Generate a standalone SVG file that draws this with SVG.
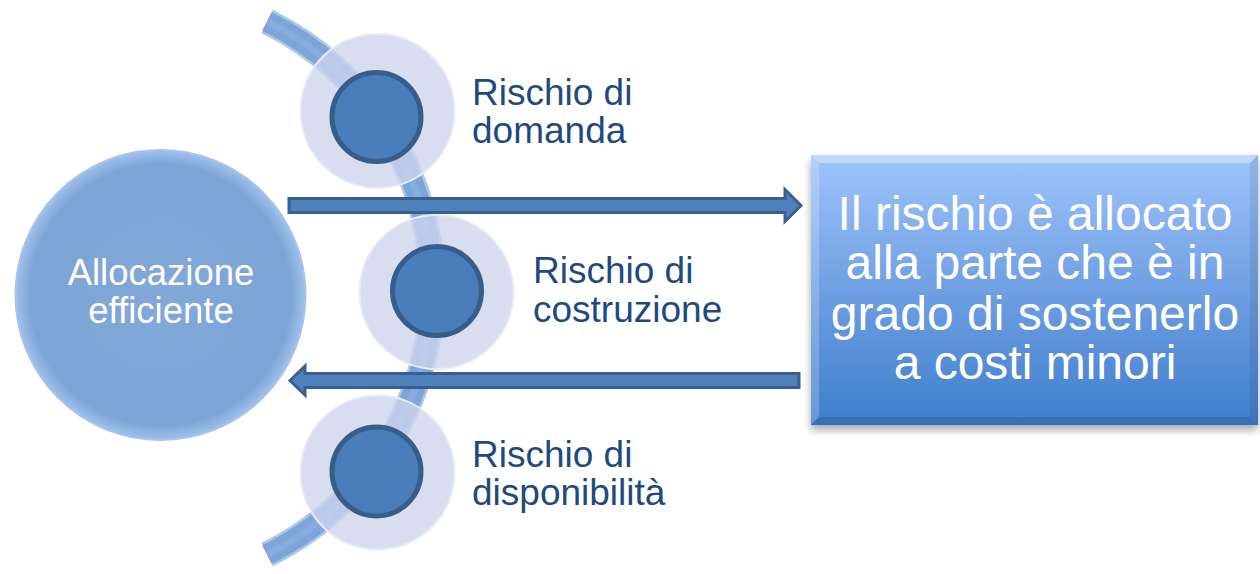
<svg xmlns="http://www.w3.org/2000/svg" width="1260" height="574" viewBox="0 0 1260 574">
  <defs>
    <style>
      .lbl { font-family: "Liberation Sans", Arial, sans-serif; font-size: 37px; fill: #1f4a80; }
      .wht { font-family: "Liberation Sans", Arial, sans-serif; fill: #ffffff; text-anchor: middle; }
      .outer { fill: #cdd3ec; fill-opacity: 0.78; stroke: #e9ecf7; stroke-width: 2; }
      .inner { fill: #4a7ebb; stroke: #385d8a; stroke-width: 5; }
      .arrow { fill: #4f81bd; stroke: #3a5f8f; stroke-width: 3; stroke-linejoin: miter; }
    </style>
    <radialGradient id="bigGrad" cx="50%" cy="50%" r="50%">
      <stop offset="0" stop-color="#82a7d9"/>
      <stop offset="0.9" stop-color="#7ea4d6"/>
      <stop offset="1" stop-color="#9fc0ec"/>
    </radialGradient>
    <linearGradient id="boxGrad" x1="0" y1="0" x2="0" y2="1">
      <stop offset="0" stop-color="#9fc4fb"/>
      <stop offset="0.5" stop-color="#6f9fe2"/>
      <stop offset="1" stop-color="#3f7ecd"/>
    </linearGradient>
    <filter id="shadow" x="-10%" y="-10%" width="120%" height="130%">
      <feGaussianBlur in="SourceAlpha" stdDeviation="4"/>
      <feOffset dx="0" dy="5" result="b"/>
      <feComponentTransfer><feFuncA type="linear" slope="0.35"/></feComponentTransfer>
      <feMerge><feMergeNode/><feMergeNode in="SourceGraphic"/></feMerge>
    </filter>
  </defs>

  <rect width="1260" height="574" fill="#ffffff"/>

  <!-- curved band -->
  <g id="arc">
    <path d="M267,21.3 A298,298 0 0 1 267,554.7" fill="none" stroke="#a9c8f0" stroke-width="26"/>
    <path d="M267,21.3 A298,298 0 0 1 267,554.7" fill="none" stroke="#7fa5d8" stroke-width="21"/>
    <path d="M267,21.3 A298,298 0 0 1 267,554.7" fill="none" stroke="#88acdd" stroke-width="7"/>
  </g>

  <!-- main circle -->
  <g id="node-allocazione">
    <circle cx="160.5" cy="295" r="145" fill="url(#bigGrad)" stroke="#a7c3ea" stroke-width="2"/>
    <text class="wht" x="161" y="285" font-size="36.5">Allocazione</text>
    <text class="wht" x="161" y="323" font-size="36.5">efficiente</text>
  </g>

  <!-- risk items -->
  <g id="node-domanda">
    <circle class="outer" cx="377.5" cy="111" r="77"/>
    <circle class="inner" cx="376.5" cy="117" r="44.5"/>
    <text class="lbl" x="472" y="105">Rischio di</text>
    <text class="lbl" x="472" y="143">domanda</text>
  </g>

  <g id="node-costruzione">
    <circle class="outer" cx="436.5" cy="292" r="77"/>
    <circle class="inner" cx="437" cy="291" r="44.5"/>
    <text class="lbl" x="533" y="283">Rischio di</text>
    <text class="lbl" x="533" y="322">costruzione</text>
  </g>

  <g id="node-disponibilita">
    <circle class="outer" cx="377.5" cy="472.5" r="77"/>
    <circle class="inner" cx="376.5" cy="471.5" r="44.5"/>
    <text class="lbl" x="472" y="467">Rischio di</text>
    <text class="lbl" x="472" y="505">disponibilità</text>
  </g>

  <!-- result box -->
  <g id="node-risultato">
    <rect x="811" y="155" width="447" height="270" fill="url(#boxGrad)" filter="url(#shadow)"/>
    <polygon points="811,155 1258,155 1250,163 819,163" fill="#ffffff" fill-opacity="0.35"/>
    <polygon points="811,155 819,163 819,417 811,425" fill="#ffffff" fill-opacity="0.2"/>
    <polygon points="811,425 819,417 1250,417 1258,425" fill="#000000" fill-opacity="0.12"/>
    <polygon points="1258,155 1258,425 1250,417 1250,163" fill="#000000" fill-opacity="0.08"/>
    <text class="wht" x="1035" y="230" font-size="48">Il rischio è allocato</text>
    <text class="wht" x="1035" y="279" font-size="48">alla parte che è in</text>
    <text class="wht" x="1035" y="330" font-size="48">grado di sostenerlo</text>
    <text class="wht" x="1035" y="379" font-size="48">a costi minori</text>
  </g>

  <!-- connectors -->
  <g id="connectors">
    <path class="arrow" d="M289,198.5 H785 V189.5 L801,205.5 L785,221.5 V212.5 H289 Z"/>
    <path class="arrow" d="M290,380.5 L305,366 V373.5 H799 V387.5 H305 V395 Z"/>
  </g>
</svg>
